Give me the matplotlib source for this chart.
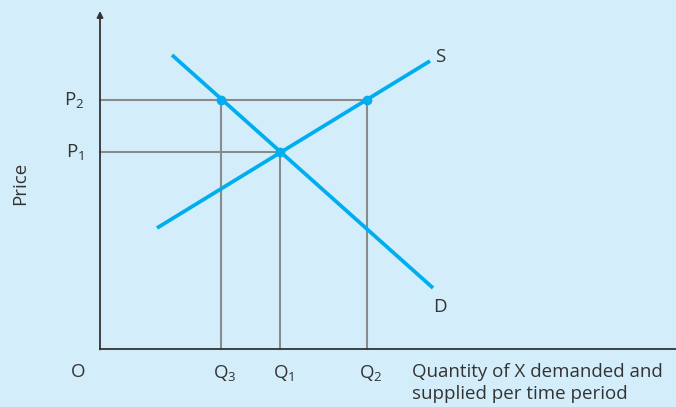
import matplotlib.pyplot as plt

# data units: x to the right of the price axis, y above the quantity axis
demand_x = [72, 333]
demand_y = [294, 61]
supply_x = [57, 330]
supply_y = [121, 288]

q_vals = [121, 180, 267]
q_labels = ['Q$_3$', 'Q$_1$', 'Q$_2$']
p_vals = [197, 249]
p_labels = ['P$_1$', 'P$_2$']

# points marked on the curves
dot_x = [121, 180, 267]
dot_y = [249, 197, 249]

bg = '#d3eefa'
blue = '#00aeef'
grey = '#8a8a8a'
ink = '#333333'

plt.rcParams['font.family'] = ['Open Sans', 'DejaVu Sans']
plt.rcParams['mathtext.default'] = 'regular'

fig = plt.figure(figsize=(6.76, 4.07), dpi=100, facecolor=bg)
ax = fig.add_axes([0, 0, 1, 1])
ax.set_facecolor(bg)
ax.set_xlim(-100, 576)
ax.set_ylim(-58, 349)
ax.axis('off')

# guide lines
ax.plot([0, q_vals[2]], [p_vals[1], p_vals[1]], color=grey, lw=1.5, zorder=2)
ax.plot([0, q_vals[1]], [p_vals[0], p_vals[0]], color=grey, lw=1.5, zorder=2)
ax.plot([q_vals[0], q_vals[0]], [0, p_vals[1]], color=grey, lw=1.5, zorder=2)
ax.plot([q_vals[1], q_vals[1]], [0, p_vals[0]], color=grey, lw=1.5, zorder=2)
ax.plot([q_vals[2], q_vals[2]], [0, p_vals[1]], color=grey, lw=1.5, zorder=2)

# axes
ax.plot([0, 576], [0, 0], color=ink, lw=1.3, zorder=3)
ax.annotate('', xy=(0, 338), xytext=(0, -0.5),
            arrowprops=dict(arrowstyle='-|>', color=ink, lw=1.3,
                            mutation_scale=9, shrinkA=0, shrinkB=0))

# curves
ax.plot(demand_x, demand_y, color=blue, lw=2.7, solid_capstyle='butt', zorder=4)
ax.plot(supply_x, supply_y, color=blue, lw=2.7, solid_capstyle='butt', zorder=4)
ax.plot(dot_x, dot_y, 'o', color=blue, ms=6, zorder=5)

fs = 13.5
ax.text(340, 292, 'S', fontsize=fs, color=ink, va='center', ha='center')
ax.text(340, 42, 'D', fontsize=fs, color=ink, va='center', ha='center')

for p, lab in zip(p_vals, p_labels):
    ax.text(-16, p, lab, fontsize=fs, color=ink, va='center', ha='right')
for q, lab in zip(q_vals, q_labels):
    ax.text(q + 3.5, -24, lab, fontsize=fs, color=ink, va='center', ha='center')

ax.text(-22, -23, 'O', fontsize=fs, color=ink, va='center', ha='center')
ax.text(-80, 166, 'Price', fontsize=fs, color=ink, va='center', ha='center', rotation=90)
ax.text(312, -34, 'Quantity of X demanded and\nsupplied per time period',
        fontsize=fs, color=ink, va='center', ha='left', linespacing=1.3)

fig.savefig('out.png', dpi=100, facecolor=bg)
